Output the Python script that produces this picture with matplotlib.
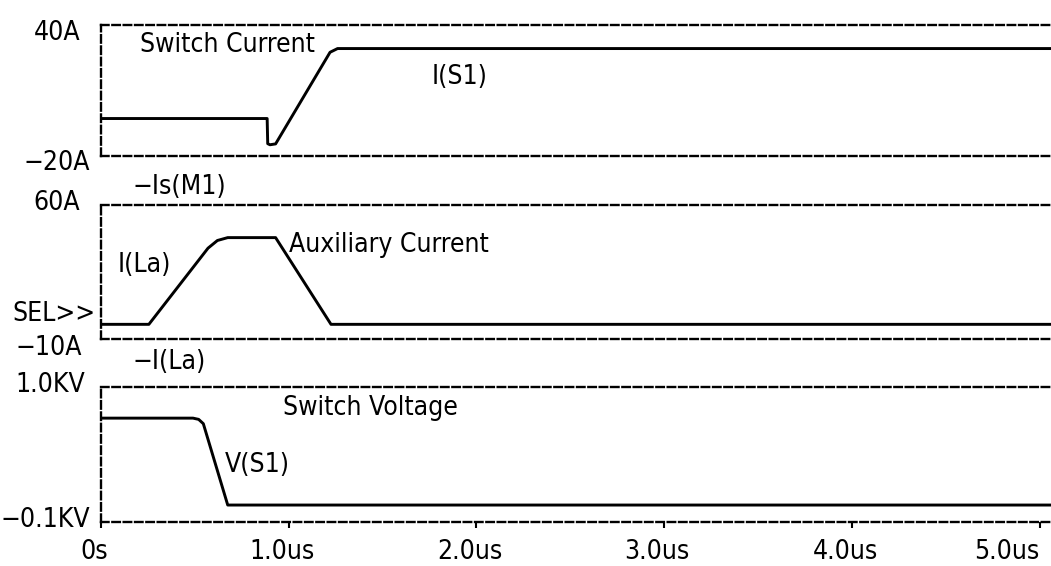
import matplotlib.pyplot as plt
from matplotlib.transforms import ScaledTranslation

plt.rcParams['font.family'] = ['DejaVu Sans']
plt.rcParams['font.stretch'] = 'condensed'

# time axis (us)
x_ticks = [0, 1, 2, 3, 4, 5]
x_labels = ["0s", "1.0us", "2.0us", "3.0us", "4.0us", "5.0us"]

# switch current I(S1), A
t_s1 = [0, 0.885, 0.888, 0.90, 0.93, 1.22, 1.26, 1.30, 5.2]
i_s1 = [-3, -3, -14.5, -15.0, -14.6, 27.3, 29, 29, 29]

# auxiliary current I(La), A
t_la = [0, 0.255, 0.57, 0.62, 0.675, 0.93, 1.225, 5.2]
i_la = [-2.2, -2.2, 37.5, 41.5, 43, 43, -2.2, -2.2]

# switch voltage V(S1), KV
t_v = [0, 0.49, 0.52, 0.545, 0.675, 5.2]
v_s1 = [0.745, 0.745, 0.735, 0.70, 0.04, 0.04]

fig = plt.figure(figsize=(10.51, 5.66), dpi=100)
L, R = 101 / 1051, 1.0
H = 566

def make_ax(top_px, bot_px, ylim):
    ax = fig.add_axes([L, 1 - bot_px / H, R - L, (bot_px - top_px) / H])
    ax.set_xlim(0, 5.06)
    ax.set_ylim(*ylim)
    for s in ['top', 'bottom', 'left']:
        ax.spines[s].set_linestyle((0, (3.2, 1.6)))
        ax.spines[s].set_linewidth(1.7)
    ax.spines['right'].set_visible(False)
    ax.set_yticks([])
    ax.set_xticks([])
    return ax

ax1 = make_ax(24.5, 155.7, (-20, 40))
ax2 = make_ax(205, 339.3, (-10, 60))
ax3 = make_ax(386.7, 522.3, (-0.1, 1.0))

ax1.plot(t_s1, i_s1, color='black', lw=2.1, solid_joinstyle='round')
ax2.plot(t_la, i_la, color='black', lw=2.1, solid_joinstyle='round')
ax3.plot(t_v, v_s1, color='black', lw=2.1, solid_joinstyle='round')

fs = 19

def ylab(ax, text, yval, dx_px, dy_px):
    ax.annotate(text, xy=(0, yval), xycoords=('axes fraction', 'data'),
                xytext=(dx_px * 0.72, dy_px * 0.72), textcoords='offset points',
                ha='right', va='center', fontsize=fs)

ylab(ax1, "40A", 40, -21, -9)
ylab(ax1, "\u221220A", -20, -11, -7)
ylab(ax2, "60A", 60, -21, 2)
ylab(ax2, "SEL>>", 3.2, -6, 0)
ylab(ax2, "\u221210A", -10, -19, -9)
ylab(ax3, "1.0KV", 1.0, -16, 2)
ylab(ax3, "\u22120.1KV", -0.1, -11, 2)

ax1.text(0.21, 30.5, "Switch Current", fontsize=fs, va='center', ha='left')
ax1.text(1.76, 16, "I(S1)", fontsize=fs, va='center', ha='left')
ax2.text(0.17, 69.5, "\u2212Is(M1)", fontsize=fs, va='center', ha='left')
ax2.text(0.088, 28.6, "I(La)", fontsize=fs, va='center', ha='left')
ax2.text(1.0, 39.1, "Auxiliary Current", fontsize=fs, va='center', ha='left')
ax2.text(0.17, -21.9, "\u2212I(La)", fontsize=fs, va='center', ha='left')
ax3.text(0.97, 0.827, "Switch Voltage", fontsize=fs, va='center', ha='left')
ax3.text(0.66, 0.365, "V(S1)", fontsize=fs, va='center', ha='left')

ax3.set_xticks(x_ticks)
ax3.set_xticklabels(x_labels, fontsize=fs)
ax3.tick_params(axis='x', direction='out', length=4, width=1.5, pad=8)
shift = ScaledTranslation(-7 / 100, 0, fig.dpi_scale_trans)
labels = ax3.get_xticklabels()
for lab in labels[:-1]:
    lab.set_transform(lab.get_transform() + shift)
labels[-1].set_ha('right')

fig.savefig("out.png", dpi=100)
